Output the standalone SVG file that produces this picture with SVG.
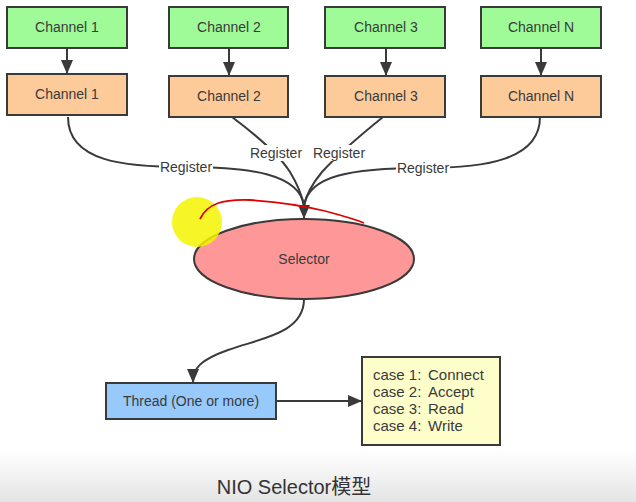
<svg xmlns="http://www.w3.org/2000/svg" width="636" height="502" viewBox="0 0 636 502">
<style>
.box{stroke:#3a3a3a;stroke-width:2}
.g{fill:#9efb98}
.o{fill:#fdca9a}
.t{font-family:"Liberation Sans",Arial,sans-serif;font-size:14px;fill:#3a3a3a}
.cs{font-size:15px}
.c{text-anchor:middle}
.ln{fill:none;stroke:#3a3a3a;stroke-width:2}
</style>
<defs>
<marker id="ah" markerUnits="userSpaceOnUse" markerWidth="14" markerHeight="14" viewBox="0 0 14 14" refX="14" refY="7" orient="auto">
<path d="M0,1 L14,7 L0,13 Z" fill="#3a3a3a"/>
</marker>
<linearGradient id="bg" x1="0" y1="0" x2="0" y2="1">
<stop offset="0" stop-color="#ffffff"/>
<stop offset="1" stop-color="#e4e4e4"/>
</linearGradient>
</defs>
<rect x="0" y="0" width="636" height="502" fill="#ffffff"/>
<rect x="0" y="450" width="636" height="52" fill="url(#bg)"/>

<g id="connectors">
<path class="ln" d="M67,48 L67,74" marker-end="url(#ah)"/>
<path class="ln" d="M229,48 L229,76" marker-end="url(#ah)"/>
<path class="ln" d="M386,48 L386,76" marker-end="url(#ah)"/>
<path class="ln" d="M541,48 L541,76" marker-end="url(#ah)"/>
<path class="ln" d="M68,117 C68,162 125,167 186,167 C250,167 300,174 304,206"/>
<path class="ln" d="M232,117 Q276,150 290,172 Q301,190 304,206"/>
<path class="ln" d="M383,117 Q342,150 322,172 Q307,190 304,206"/>
<path class="ln" d="M540,117 C540,160 485,168 424,168 C350,168 308,176 304,206"/>
<path class="ln" d="M304,204 L304,219" marker-end="url(#ah)"/>
<path class="ln" d="M304,299 C304,333 262,338 228,350 C200,360 193,368 193,383" marker-end="url(#ah)"/>
<path class="ln" d="M276,401 L362,401" marker-end="url(#ah)"/>
<rect x="159" y="159" width="54" height="16" fill="#ffffff"/>
<text class="t c" x="186" y="172">Register</text>
<rect x="249" y="145" width="54" height="16" fill="#ffffff"/>
<text class="t c" x="276" y="158">Register</text>
<rect x="312" y="145" width="54" height="16" fill="#ffffff"/>
<text class="t c" x="339" y="158">Register</text>
<rect x="396" y="160" width="54" height="16" fill="#ffffff"/>
<text class="t c" x="423" y="173">Register</text>
</g>

<g id="ch1-top"><rect class="box g" x="7" y="7" width="120" height="41"/><text class="t c" x="67" y="32">Channel 1</text></g>
<g id="ch2-top"><rect class="box g" x="169" y="7" width="119" height="41"/><text class="t c" x="229" y="32">Channel 2</text></g>
<g id="ch3-top"><rect class="box g" x="325" y="7" width="120" height="41"/><text class="t c" x="386" y="32">Channel 3</text></g>
<g id="chN-top"><rect class="box g" x="481" y="7" width="120" height="41"/><text class="t c" x="541" y="32">Channel N</text></g>

<g id="ch1"><rect class="box o" x="7" y="74" width="120" height="41"/><text class="t c" x="67" y="99">Channel 1</text></g>
<g id="ch2"><rect class="box o" x="169" y="76" width="119" height="41"/><text class="t c" x="229" y="101">Channel 2</text></g>
<g id="ch3"><rect class="box o" x="325" y="76" width="120" height="41"/><text class="t c" x="386" y="101">Channel 3</text></g>
<g id="chN"><rect class="box o" x="481" y="76" width="120" height="41"/><text class="t c" x="541" y="101">Channel N</text></g>

<g id="selector"><ellipse class="box" cx="304" cy="259" rx="110" ry="40" fill="#fe9898"/><text class="t c" x="304" y="264">Selector</text></g>

<g id="thread"><rect class="box" x="106" y="383" width="170" height="36" fill="#98c9fb"/><text class="t c" x="191" y="406">Thread (One or more)</text></g>

<g id="cases"><rect class="box" x="362" y="357" width="138" height="88" fill="#fefecb"/>
<text class="t cs" x="373" y="380">case 1:<tspan x="428">Connect</tspan></text>
<text class="t cs" x="373" y="397">case 2:<tspan x="428">Accept</tspan></text>
<text class="t cs" x="373" y="414">case 3:<tspan x="428">Read</tspan></text>
<text class="t cs" x="373" y="431">case 4:<tspan x="428">Write</tspan></text>
</g>

<g id="annotation">
<circle cx="197" cy="222" r="25" fill="#f5f500" opacity="0.85"/>
<path d="M200,219 C207,204 222,199 250,200 C280,202 305,206 325,211 C340,215 355,219 364,223" fill="none" stroke="#e00000" stroke-width="1.8"/>
</g>

<text x="294" y="494" text-anchor="middle" font-family="'Liberation Sans','Noto Sans CJK SC',sans-serif" font-size="20" fill="#333333">NIO Selector模型</text>
</svg>
